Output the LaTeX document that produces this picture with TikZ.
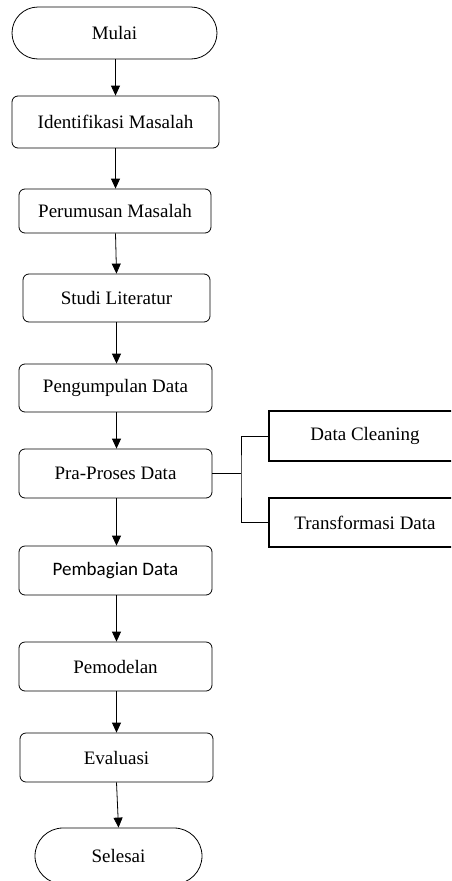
\documentclass[tikz,border=0pt]{standalone}
\usepackage{fontspec}
\setmainfont{Liberation Serif}
\newfontfamily\calfont{Carlito}
\usetikzlibrary{arrows.meta}
\begin{document}
\begin{tikzpicture}[x=1pt,y=-1pt,
  stepbox/.style={draw, line width=0.8pt, rounded corners=6pt, inner sep=0pt, font=\fontsize{19}{21}\selectfont},
  termbox/.style={draw, line width=0.8pt, rounded corners=26pt, inner sep=0pt, font=\fontsize{19}{21}\selectfont},
  subbox/.style={draw, line width=1.6pt, inner sep=0pt, minimum width=192pt, minimum height=49pt, font=\fontsize{19}{21}\selectfont},
  arr/.style={line width=0.8pt, -{Triangle[width=9pt,length=10pt]}},
  link/.style={line width=0.8pt}]
\useasboundingbox (0,0) rectangle (451,881);
\clip (0,0) rectangle (451,881);
\node[termbox, minimum width=205pt, minimum height=52pt] (mulai) at (114.5,33) {Mulai};
\node[stepbox, minimum width=207pt, minimum height=52pt] (ident) at (115.5,122) {Identifikasi Masalah};
\node[stepbox, minimum width=192pt, minimum height=44pt] (perum) at (115,211) {Perumusan Masalah};
\node[stepbox, minimum width=187pt, minimum height=48pt] (studi) at (116.5,298) {Studi Literatur};
\node[stepbox, minimum width=193pt, minimum height=48pt] (pengum) at (115.5,388) {Pengumpulan Data};
\node[stepbox, minimum width=193pt, minimum height=49pt] (pra) at (115.5,473.5) {Pra-Proses Data};
\node[stepbox, minimum width=193pt, minimum height=49pt, font=\calfont\fontsize{19}{21}\selectfont] (pemb) at (115.5,570.5) {Pembagian Data};
\node[stepbox, minimum width=193pt, minimum height=49pt] (pemod) at (115.5,666.5) {Pemodelan};
\node[stepbox, minimum width=193pt, minimum height=49pt] (eval) at (116.5,757.5) {Evaluasi};
\node[termbox, minimum width=167pt, minimum height=56pt, rounded corners=28pt] (selesai) at (118.5,856) {Selesai};
\node[subbox, minimum height=50pt] (dc) at (365,436) {Data Cleaning};
\node[subbox] (tr) at (365,522.5) {Transformasi Data};
\coordinate (ax) at (115.5,0);
\coordinate (bx) at (116.5,0);
\coordinate (br) at (241,473.5);
\draw[arr] (mulai.south -| ax) -- (ident.north -| ax);
\draw[arr] (ident.south -| ax) -- (perum.north -| ax);
\draw[arr] (perum.south -| ax) -- (studi.north -| bx);
\draw[arr] (studi.south -| bx) -- (pengum.north -| bx);
\draw[arr] (pengum.south -| bx) -- (pra.north -| bx);
\draw[arr] (pra.south -| bx) -- (pemb.north -| bx);
\draw[arr] (pemb.south -| bx) -- (pemod.north -| bx);
\draw[arr] (pemod.south -| bx) -- (eval.north -| bx);
\draw[arr] (eval.south) -- (selesai.north);
\draw[link] (pra.east) -- (br);
\draw[link] (dc.west) -| (br) |- (tr.west);
\end{tikzpicture}
\end{document}
